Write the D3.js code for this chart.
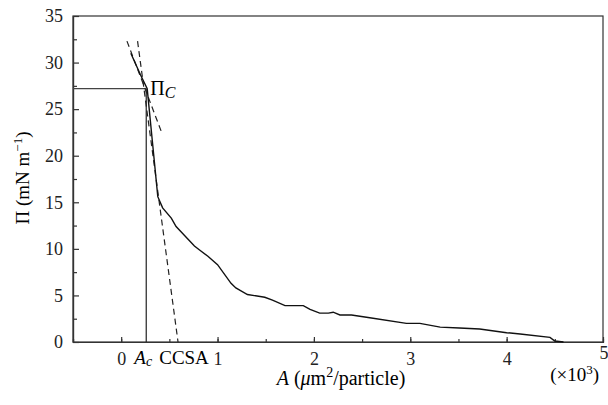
<!DOCTYPE html>
<html>
  <head>
    <meta charset="utf-8">
    <title>Surface pressure isotherm</title>
    <script src="https://d3js.org/d3.v7.min.js"></script>
    <style>
      body { margin: 0; background: #fff; }
    </style>
  </head>
  <body>
    <svg id="chart" width="608" height="405"></svg>
    <script>
      // isotherm, area in 10^3 um2/particle, pressure in mN/m
      var areaVals = [0.10, 0.20, 0.27, 0.38, 0.43, 0.52, 0.57, 0.66, 0.76, 0.81, 0.90, 1.00, 1.14, 1.19, 1.31, 1.49, 1.57, 1.70, 1.89, 1.96, 2.06, 2.15, 2.20, 2.27, 2.39, 2.58, 2.96, 3.10, 3.31, 3.51, 3.72, 4.00, 4.14, 4.45, 4.50, 4.59];
      var piVals = [31.0, 28.7, 27.2, 15.6, 14.4, 13.3, 12.4, 11.4, 10.3, 9.9, 9.2, 8.3, 6.3, 5.8, 5.1, 4.8, 4.5, 3.9, 3.9, 3.5, 3.1, 3.1, 3.2, 2.9, 2.9, 2.6, 2.0, 2.0, 1.6, 1.5, 1.4, 1.0, 0.86, 0.5, 0.1, 0];
      // tangent lines (dashed)
      var steepLine = [[0.17, 32.3], [0.59, 0]];
      var shallowLine = [[0.06, 32.3], [0.42, 22.5]];
      var piC = 27.2, aC = 0.26, ccsa = 0.59;
      var xTicks = [0, 1, 2, 3, 4, 5];
      var yTicks = [0, 5, 10, 15, 20, 25, 30, 35];

      var serif = "'Liberation Serif', 'DejaVu Serif', serif";
      var margin = { top: 16, right: 5, bottom: 63, left: 73 };
      var width = 608, height = 405;
      var chart = d3.select("#chart")
        .attr("font-family", serif)
        .style("font-family", serif);

      var x = d3.scaleLinear().domain([-0.5, 5]).range([margin.left, width - margin.right]);
      var y = d3.scaleLinear().domain([0, 35]).range([height - margin.bottom, margin.top]);

      // frame
      chart.append("rect")
        .attr("x", x(-0.5)).attr("y", y(35))
        .attr("width", x(5) - x(-0.5)).attr("height", y(0) - y(35))
        .attr("fill", "none").attr("stroke", "#333").attr("stroke-width", 1.2);

      function styleAxis(g) {
        g.selectAll("path, line").attr("stroke", "#333").attr("stroke-width", 1.2);
        g.selectAll("text")
          .style("font-family", serif)
          .style("font-size", "18px")
          .attr("fill", "#222");
      }

      // minor ticks
      var xAxisMinor = d3.axisBottom(x).tickValues(d3.range(-0.5, 5, 0.5)).tickSize(-3).tickFormat("");
      var yAxisMinor = d3.axisLeft(y).tickValues(d3.range(2.5, 35, 5)).tickSize(-4).tickFormat("");
      chart.append("g").attr("transform", "translate(0," + y(0) + ")").call(xAxisMinor).call(styleAxis);
      chart.append("g").attr("transform", "translate(" + x(-0.5) + ",0)").call(yAxisMinor).call(styleAxis);

      var xAxis = d3.axisBottom(x).tickValues(xTicks).tickFormat(d3.format("d"))
        .tickSize(-5).tickPadding(10).tickSizeOuter(0);
      var yAxis = d3.axisLeft(y).tickValues(yTicks).tickFormat(d3.format("d"))
        .tickSize(-6).tickPadding(10).tickSizeOuter(0);
      var xg = chart.append("g").attr("transform", "translate(0," + y(0) + ")").call(xAxis).call(styleAxis);
      chart.append("g").attr("transform", "translate(" + x(-0.5) + ",0)").call(yAxis).call(styleAxis);
      xg.selectAll(".tick").filter(function(d) { return d === 5; }).select("text")
        .attr("dy", "0.4em").attr("text-anchor", "end").attr("x", 5);

      // extra x labels
      var ac = chart.append("text")
        .attr("x", x(aC) - 3).attr("y", y(0) + 22)
        .attr("text-anchor", "middle").style("font-size", "19px");
      ac.append("tspan").style("font-style", "italic").text("A");
      ac.append("tspan").style("font-style", "italic").style("font-size", "14px").attr("dy", 2).text("c");
      chart.append("text")
        .attr("x", x(ccsa) + 6).attr("y", y(0) + 22)
        .attr("text-anchor", "middle").style("font-size", "19px").text("CCSA");

      // reference lines
      chart.append("line")
        .attr("x1", x(-0.5)).attr("x2", x(aC)).attr("y1", y(piC)).attr("y2", y(piC))
        .attr("stroke", "#444").attr("stroke-width", 1.2);
      chart.append("line")
        .attr("x1", x(aC)).attr("x2", x(aC)).attr("y1", y(piC)).attr("y2", y(0))
        .attr("stroke", "#222").attr("stroke-width", 1.2);

      var line = d3.line().x(function(d) { return x(d[0]); }).y(function(d) { return y(d[1]); });
      [steepLine, shallowLine].forEach(function(l) {
        chart.append("path").attr("d", line(l))
          .attr("fill", "none").attr("stroke", "#222").attr("stroke-width", 1.2)
          .attr("stroke-dasharray", "6,4");
      });

      // isotherm
      chart.append("path")
        .attr("d", line(d3.zip(areaVals, piVals)))
        .attr("fill", "none").attr("stroke", "#111").attr("stroke-width", 1.4);

      // Pi_C label
      var pc = chart.append("text").attr("x", x(aC) + 4).attr("y", y(piC) + 6).style("font-size", "20px");
      pc.append("tspan").text("Π");
      pc.append("tspan").style("font-style", "italic").style("font-size", "16px").attr("dy", 3).text("C");

      // axis titles
      var yl = chart.append("text")
        .attr("transform", "translate(29," + 178 + ") rotate(-90)")
        .attr("text-anchor", "middle").style("font-size", "19px");
      yl.append("tspan").text("Π (mN m");
      yl.append("tspan").style("font-size", "13px").attr("dy", -7).text("−1");
      yl.append("tspan").attr("dy", 7).text(")");

      var xl = chart.append("text")
        .attr("x", 341).attr("y", 385)
        .attr("text-anchor", "middle").style("font-size", "20px");
      xl.append("tspan").style("font-style", "italic").text("A");
      xl.append("tspan").text(" (");
      xl.append("tspan").style("font-style", "italic").text("μ");
      xl.append("tspan").text("m");
      xl.append("tspan").style("font-size", "14px").attr("dy", -8).text("2");
      xl.append("tspan").attr("dy", 8).text("/particle)");

      var ex = chart.append("text")
        .attr("x", 599).attr("y", 381)
        .attr("text-anchor", "end").style("font-size", "19px");
      ex.append("tspan").text("(×10");
      ex.append("tspan").style("font-size", "13px").attr("dy", -7).text("3");
      ex.append("tspan").attr("dy", 7).text(")");
    </script>
  </body>
</html>
